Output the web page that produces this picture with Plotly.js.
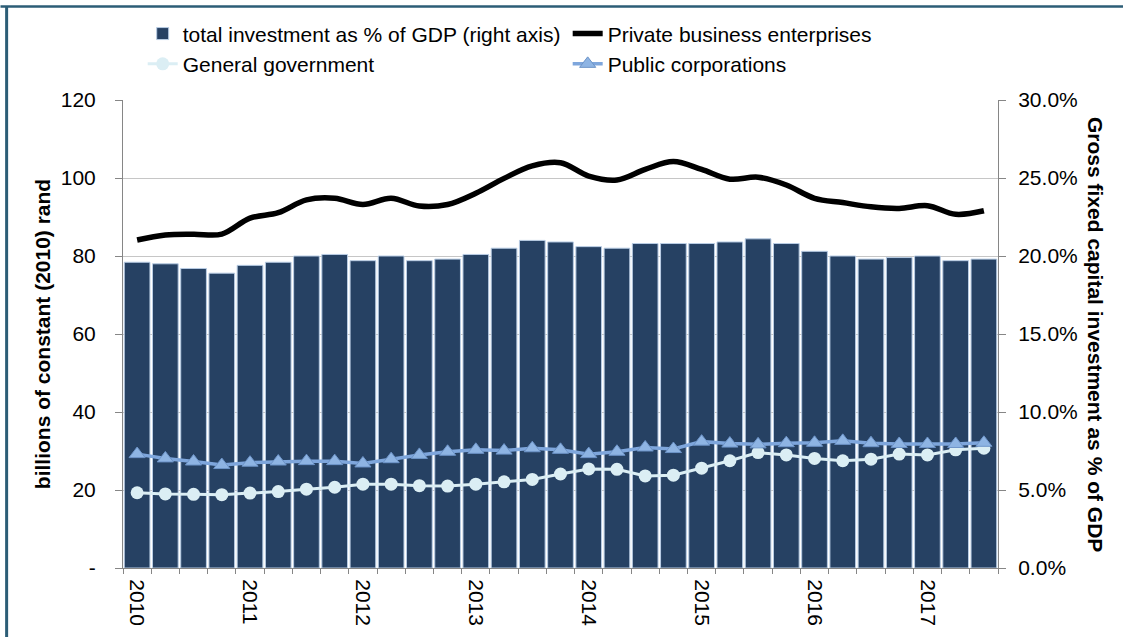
<!DOCTYPE html>
<html>
<head>
<meta charset="utf-8">
<script src="https://cdn.plot.ly/plotly-3.0.1.min.js"></script>
<style>html,body{margin:0;padding:0;background:#fff;}#chart{width:1123px;height:637px;}</style>
</head>
<body>
<div id="chart"></div>
<script>
const quarters = ['2010Q1','2010Q2','2010Q3','2010Q4','2011Q1','2011Q2','2011Q3','2011Q4',
  '2012Q1','2012Q2','2012Q3','2012Q4','2013Q1','2013Q2','2013Q3','2013Q4',
  '2014Q1','2014Q2','2014Q3','2014Q4','2015Q1','2015Q2','2015Q3','2015Q4',
  '2016Q1','2016Q2','2016Q3','2016Q4','2017Q1','2017Q2','2017Q3'];
const yearLabels = ['2010','','','','2011','','','','2012','','','','2013','','','',
  '2014','','','','2015','','','','2016','','','','2017','',''];
const totalInvestmentPct = [19.6,19.5,19.2,18.9,19.4,19.6,20.0,20.1,19.7,20.0,19.7,19.8,20.1,20.5,21.0,20.9,
  20.6,20.5,20.8,20.8,20.8,20.9,21.1,20.8,20.3,20.0,19.8,19.9,20.0,19.7,19.8];
const privateBusiness = [84.1,85.4,85.6,85.6,89.7,91.1,94.4,94.8,93.2,94.8,92.8,93.2,96.1,99.9,103.1,103.9,
  100.5,99.5,102.2,104.2,102.2,99.7,100.2,98.2,94.8,93.7,92.6,92.2,92.9,90.7,91.6];
const generalGovernment = [19.3,19.0,18.9,18.8,19.2,19.6,20.2,20.7,21.5,21.5,21.1,21.0,21.5,22.1,22.7,24.1,
  25.4,25.3,23.6,23.8,25.6,27.5,29.6,29.0,28.1,27.5,27.9,29.2,29.0,30.3,30.7];
const publicCorporations = [29.2,28.1,27.3,26.4,27.0,27.3,27.4,27.4,26.8,27.9,29.0,29.8,30.3,30.1,30.7,30.3,
  29.2,29.8,30.9,30.5,32.4,31.9,31.7,32.0,32.1,32.6,32.0,31.8,31.8,31.8,32.1];
const leftTickVals = [0,20,40,60,80,100,120];
const leftTickText = ['-','20','40','60','80','100','120'];
const rightTickVals = [0,5,10,15,20,25,30];
const rightTickText = ['0.0%','5.0%','10.0%','15.0%','20.0%','25.0%','30.0%'];

const FONT = 'Liberation Sans, Arial, sans-serif';
const AX = '#868686';

const traces = [
  {type:'bar', name:'total investment as % of GDP (right axis)', x:quarters, y:totalInvestmentPct,
   xaxis:'x', yaxis:'y', marker:{color:'#264163', line:{color:'#b8cce4', width:1}}},
  {type:'scatter', mode:'lines', name:'Private business enterprises', x:quarters, y:privateBusiness,
   xaxis:'x', yaxis:'y2', line:{color:'#000000', width:5.5, shape:'spline', smoothing:1}},
  {type:'scatter', mode:'lines+markers', name:'General government', x:quarters, y:generalGovernment,
   xaxis:'x', yaxis:'y2', line:{color:'#dbeef4', width:3}, marker:{symbol:'circle', size:13, color:'#dbeef4'}},
  {type:'scatter', mode:'lines+markers', name:'Public corporations', x:quarters, y:publicCorporations,
   xaxis:'x', yaxis:'y2', line:{color:'#7ea6dc', width:3.5},
   marker:{symbol:'triangle-up', size:14, color:'#8eb4e3', line:{color:'#6d94c8', width:1}}}
];

const layout = {
  width:1123, height:637, autosize:false,
  margin:{l:123, r:125, t:100, b:69},
  paper_bgcolor:'#ffffff', plot_bgcolor:'#ffffff',
  font:{family:FONT, size:21, color:'#000000'},
  bargap:0.09,
  showlegend:true,
  legend:{orientation:'h', x:0.0225, xanchor:'left', y:1.185, yanchor:'top',
          entrywidth:380, entrywidthmode:'pixels', bgcolor:'rgba(0,0,0,0)',
          font:{family:FONT, size:21, color:'#000'}, traceorder:'normal'},
  xaxis:{type:'category', range:[-0.5,30.5], tickmode:'array', tickvals:quarters, ticktext:yearLabels,
         tickson:'boundaries', ticks:'outside', ticklen:5, tickcolor:AX, tickangle:90,
         showline:true, linecolor:AX, linewidth:1, showgrid:false, zeroline:false,
         ticklabelstandoff:6, tickfont:{family:FONT, size:21, color:'#000'}},
  yaxis:{side:'right', range:[0,30], tickmode:'array', tickvals:rightTickVals, ticktext:rightTickText,
         ticks:'outside', ticklen:7, tickcolor:AX,
         showline:true, linecolor:AX, linewidth:1, showgrid:true, gridcolor:'#c6c6c6', gridwidth:1,
         zeroline:false, ticklabelstandoff:8, tickfont:{family:FONT, size:21, color:'#000'}},
  yaxis2:{overlaying:'y', side:'left', range:[0,120], tickmode:'array', tickvals:leftTickVals,
          ticktext:leftTickText, ticks:'outside', ticklen:7, tickcolor:AX,
          showline:true, linecolor:AX, linewidth:1, showgrid:false, zeroline:false,
          ticklabelstandoff:15, tickfont:{family:FONT, size:21, color:'#000'},
          title:{text:'<b>billions of constant (2010) rand</b>', standoff:4,
                 font:{family:FONT, size:21, color:'#000'}}},
  annotations:[
    {text:'<b>Gross fixed capital investment as % of GDP</b>', xref:'paper', yref:'paper',
     x:1.112, y:0.5, xanchor:'center', yanchor:'middle', textangle:90, showarrow:false,
     font:{family:FONT, size:21, color:'#000'}}
  ],
  shapes:[
    {type:'line', xref:'paper', yref:'paper', x0:-0.14, x1:1.15, y0:1.2, y1:1.2,
     line:{color:'#2c5d76', width:2.5}},
    {type:'line', xref:'paper', yref:'paper', x0:-0.1330, x1:-0.1330, y0:1.2, y1:-0.15,
     line:{color:'#2c5d76', width:3}}
  ]
};

Plotly.newPlot('chart', traces, layout, {displayModeBar:false, staticPlot:true});
</script>
</body>
</html>
